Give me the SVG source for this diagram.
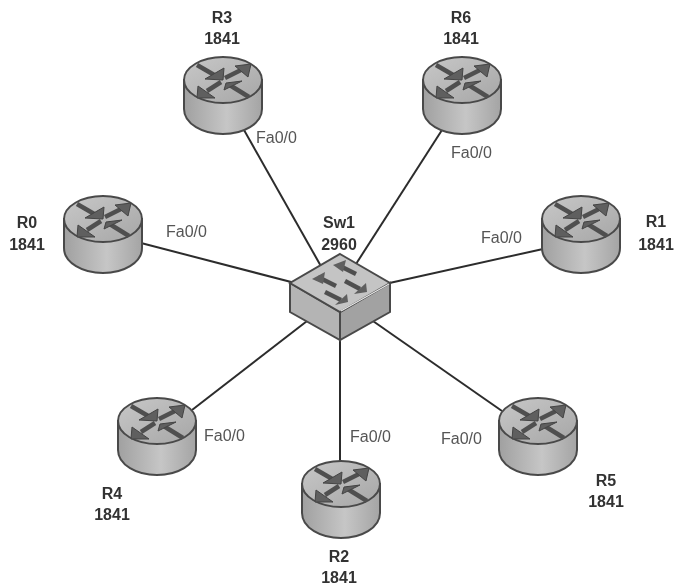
<svg xmlns="http://www.w3.org/2000/svg" width="676" height="585" viewBox="0 0 676 585">
<defs>
<linearGradient id="rb" x1="0" x2="1" y1="0" y2="0"><stop offset="0" stop-color="#a0a0a0"/><stop offset=".55" stop-color="#c6c6c6"/><stop offset="1" stop-color="#a4a4a4"/></linearGradient>
<linearGradient id="rt" x1="0" x2="1" y1="0" y2="1"><stop offset="0" stop-color="#c8c8c8"/><stop offset="1" stop-color="#a6a6a6"/></linearGradient>
<filter id="b" x="-10%" y="-10%" width="120%" height="120%"><feGaussianBlur stdDeviation="0.7"/></filter>
<filter id="tb" x="-10%" y="-10%" width="120%" height="120%"><feGaussianBlur stdDeviation="0.4"/></filter>
<g id="router" filter="url(#b)">
<path d="M-37 3V32C-35 46-18 55 1 55S37 46 39 32V3Z" fill="#000" opacity=".15"/>
<path d="M-39 0V29C-39 44-20 54 0 54S39 44 39 29V0Z" fill="url(#rb)" stroke="#4a4a4a" stroke-width="2"/>
<ellipse cx="0" cy="0" rx="39" ry="23" fill="url(#rt)" stroke="#4a4a4a" stroke-width="2"/>
<g stroke="#4f4f4f" stroke-width="4.5" fill="none">
<path d="M-26 -15L-7 -4"/><path d="M5 4L26 17"/><path d="M2 -2L20 -11"/><path d="M-2 2L-16 11"/>
</g>
<g fill="#5e5e5e" stroke="#444" stroke-width="1">
<path d="M28 -16L12 -14L25 -3Z"/><path d="M-26 18L-25 6L-8 18Z"/>
<path d="M0 0L-18 -1L1 -12Z"/><path d="M3 3L19 1L1 10Z"/>
</g>
</g>
</defs>
<style>
.t{font-family:"Liberation Sans",Arial,sans-serif;font-size:16px;font-weight:bold;fill:#333;text-anchor:middle;filter:url(#tb)}
.p{font-family:"Liberation Sans",Arial,sans-serif;font-size:16px;fill:#555;filter:url(#tb)}
.l{stroke:#2c2c2c;stroke-width:2;fill:none}
</style>
<rect width="676" height="585" fill="#fff"/>
<g id="connectors">
<line class="l" x1="244" y1="130" x2="322" y2="268"/>
<line class="l" x1="442" y1="130" x2="356" y2="264"/>
<line class="l" x1="141" y1="243" x2="295" y2="283"/>
<line class="l" x1="543" y1="249" x2="385" y2="284"/>
<line class="l" x1="192" y1="410" x2="320" y2="311"/>
<line class="l" x1="340" y1="463" x2="340" y2="335"/>
<line class="l" x1="502" y1="411" x2="360" y2="312"/>
</g>
<g id="R3"><use href="#router" x="223" y="80"/><text class="t" x="222" y="23">R3</text><text class="t" x="222" y="44">1841</text></g>
<g id="R6"><use href="#router" x="462" y="80"/><text class="t" x="461" y="23">R6</text><text class="t" x="461" y="44">1841</text></g>
<g id="R0"><use href="#router" x="103" y="219"/><text class="t" x="27" y="228">R0</text><text class="t" x="27" y="250">1841</text></g>
<g id="R1"><use href="#router" x="581" y="219"/><text class="t" x="656" y="227">R1</text><text class="t" x="656" y="250">1841</text></g>
<g id="R4"><use href="#router" x="157" y="421"/><text class="t" x="112" y="499">R4</text><text class="t" x="112" y="520">1841</text></g>
<g id="R2"><use href="#router" x="341" y="484"/><text class="t" x="339" y="562">R2</text><text class="t" x="339" y="583">1841</text></g>
<g id="R5"><use href="#router" x="538" y="421"/><text class="t" x="606" y="486">R5</text><text class="t" x="606" y="507">1841</text></g>
<g id="Sw1">
<g filter="url(#b)">
<path d="M290 283L340 312V340L290 312Z" fill="#b4b4b4" stroke="#4a4a4a" stroke-width="2"/>
<path d="M390 283L340 312V340L390 312Z" fill="#a2a2a2" stroke="#4a4a4a" stroke-width="2"/>
<path d="M340 254L390 283L340 312L290 283Z" fill="#c4c4c4" stroke="#4a4a4a" stroke-width="2"/>
<path d="M341 311L389 284" stroke="#e8e8e8" stroke-width="1.2" fill="none"/>
<g stroke="#505050" stroke-width="4.5" fill="none"><path d="M340 266L356 274"/><path d="M318 277L336 286"/><path d="M345 281L360 289"/><path d="M325 292L341 300"/></g>
<g fill="#5e5e5e"><path d="M333 265L346 260L343 272Z"/><path d="M312 279L325 272L323 284Z"/><path d="M367 292L366 283L354 294Z"/><path d="M348 302L347 294L335 305Z"/></g>
</g>
<text class="t" x="339" y="228">Sw1</text><text class="t" x="339" y="250">2960</text>
</g>
<g id="labels">
<text class="p" x="256" y="143">Fa0/0</text>
<text class="p" x="451" y="158">Fa0/0</text>
<text class="p" x="166" y="237">Fa0/0</text>
<text class="p" x="481" y="243">Fa0/0</text>
<text class="p" x="204" y="441">Fa0/0</text>
<text class="p" x="350" y="442">Fa0/0</text>
<text class="p" x="441" y="444">Fa0/0</text>
</g>
</svg>
